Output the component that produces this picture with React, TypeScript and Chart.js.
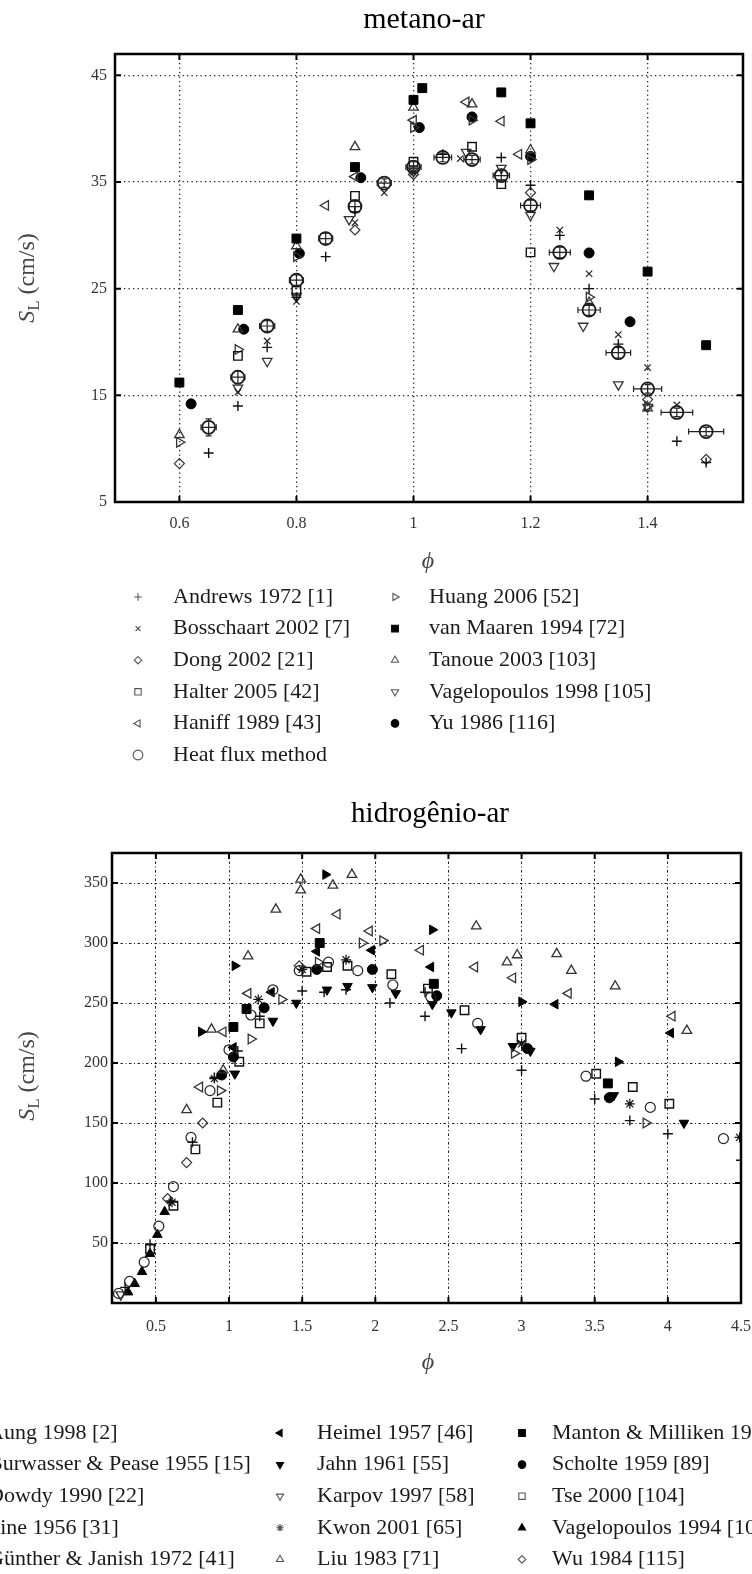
import React, { useEffect, useRef } from 'react';
import { Chart, registerables } from 'chart.js';
import { drawPoint } from 'chart.js/helpers';

Chart.register(...registerables);

const SERIF = "'Liberation Serif', 'DejaVu Serif', 'Times New Roman', serif";

// ================= metano-ar =================
const CH4_X_TICKS = [0.6, 0.8, 1, 1.2, 1.4];
const CH4_X_LABELS = ['0.6', '0.8', '1', '1.2', '1.4'];
const CH4_Y_TICKS = [5, 15, 25, 35, 45];
const CH4_Y_LABELS = ['5', '15', '25', '35', '45'];

const andrewsPhi = [0.65, 0.7, 0.75, 0.8, 0.85, 0.9, 1.05, 1.15, 1.2, 1.25, 1.3, 1.35, 1.45, 1.5];
const andrewsSL = [9.6, 14.0, 19.5, 24.2, 28.0, 32.2, 37.6, 37.3, 34.7, 30.0, 25.0, 19.8, 10.7, 8.7];
const bosschaartPhi = [0.7, 0.75, 0.8, 0.9, 0.95, 1.0, 1.08, 1.25, 1.3, 1.35, 1.4, 1.45];
const bosschaartSL = [15.3, 20.1, 23.8, 31.2, 34.0, 35.9, 37.2, 30.5, 26.4, 20.7, 17.6, 14.1];
const dongPhi = [0.6, 0.9, 1.0, 1.2, 1.4, 1.5];
const dongSL = [8.6, 30.5, 35.7, 34.0, 14.6, 9.0];
const halterPhi = [0.7, 0.8, 0.9, 1.0, 1.1, 1.15, 1.2];
const halterSL = [18.7, 24.8, 33.7, 36.9, 38.3, 34.8, 28.4];
const haniffPhi = [0.85, 0.9, 1.0, 1.09, 1.15, 1.18];
const haniffSL = [32.8, 35.5, 40.8, 42.5, 40.7, 37.6];
const heatFluxPhi = [0.65, 0.7, 0.75, 0.8, 0.85, 0.9, 0.95, 1.0, 1.05, 1.1, 1.15, 1.2, 1.25, 1.3, 1.35, 1.4, 1.45, 1.5];
const heatFluxSL = [12.0, 16.7, 21.5, 25.8, 29.7, 32.7, 34.9, 36.4, 37.3, 37.1, 35.6, 32.8, 28.4, 23.0, 19.0, 15.6, 13.4, 11.6];
const heatFluxPhiErr = [0.013, 0.012, 0.013, 0.012, 0.012, 0.01, 0.012, 0.013, 0.015, 0.014, 0.014, 0.017, 0.018, 0.019, 0.021, 0.024, 0.027, 0.03];
const heatFluxSLErr = [0.8, 0.6, 0.5, 0.5, 0.5, 0.5, 0.4, 0.5, 0.4, 0.4, 0.5, 0.5, 0.5, 0.5, 0.5, 0.4, 0.4, 0.4];
const huangPhi = [0.6, 0.7, 0.8, 1.0, 1.1, 1.2, 1.3, 1.4];
const huangSL = [10.6, 19.3, 28.0, 40.1, 40.8, 37.1, 24.2, 14.0];
const vanMaarenPhi = [0.6, 0.7, 0.8, 0.9, 1.0, 1.015, 1.15, 1.2, 1.3, 1.4, 1.5];
const vanMaarenSL = [16.2, 23.0, 29.7, 36.4, 42.7, 43.8, 43.4, 40.5, 33.75, 26.6, 19.7];
const tanouePhi = [0.6, 0.7, 0.8, 0.9, 1.0, 1.1, 1.2, 1.3, 1.4];
const tanoueSL = [11.3, 21.2, 29.0, 38.3, 42.0, 42.3, 38.0, 23.7, 13.8];
const vagelo98Phi = [0.7, 0.75, 0.8, 0.89, 1.0, 1.09, 1.15, 1.2, 1.24, 1.29, 1.35, 1.4];
const vagelo98SL = [15.7, 18.2, 24.3, 31.5, 36.0, 37.8, 36.3, 31.9, 27.1, 21.5, 16.0, 13.9];
const yuPhi = [0.62, 0.71, 0.805, 0.91, 1.01, 1.1, 1.2, 1.3, 1.37];
const yuSL = [14.2, 21.2, 28.3, 35.4, 40.1, 41.1, 37.4, 28.35, 21.9];

// ================= hidrogênio-ar =================
const H2_X_TICKS = [0.5, 1, 1.5, 2, 2.5, 3, 3.5, 4, 4.5];
const H2_X_LABELS = ['0.5', '1', '1.5', '2', '2.5', '3', '3.5', '4', '4.5'];
const H2_Y_TICKS = [50, 100, 150, 200, 250, 300, 350];
const H2_Y_LABELS = ['50', '100', '150', '200', '250', '300', '350'];

const aungPhi = [0.29, 0.46, 0.6, 0.75, 0.9, 1.06, 1.21, 1.5, 1.65, 1.8, 2.1, 2.34, 2.34, 2.59, 3.0, 3.5, 3.74, 4.0, 4.5];
const aungSL = [13, 49, 85, 134, 188, 210, 239, 260, 259, 261, 250, 259, 239, 212, 194, 170, 152, 141, 119];
const burwasserPhi = [0.245, 0.32, 0.42, 0.52, 0.62, 0.74, 0.87, 1.0, 1.15, 1.3, 1.48, 1.68, 1.88, 2.12, 2.38, 2.7, 3.44, 3.88, 4.38];
const burwasserSL = [8, 18, 34, 64, 97, 138, 177, 211, 240, 261, 277, 284, 277, 265, 255, 233, 189, 163, 137];
const dowdyPhi = [0.94, 1.15, 1.36, 1.61, 1.91, 2.05, 2.95, 3.85];
const dowdySL = [177, 220, 253, 284, 300, 302, 208, 150];
const finePhi = [0.81, 1.04, 1.66, 2.39, 3.0, 3.66];
const fineSL = [226, 281, 357, 311, 251, 201];
const guntherPhi = [0.8, 0.96, 1.13, 1.6, 1.74, 1.96, 2.31, 2.68, 2.94, 3.32, 4.03];
const guntherSL = [180, 226, 258, 312, 324, 310, 294, 280, 271, 258, 239];
const heimelPhi = [1.03, 1.29, 1.6, 1.975, 2.38, 3.23, 4.02];
const heimelSL = [213, 259, 293, 294, 280, 249, 225];
const jahnPhi = [1.04, 1.3, 1.46, 1.67, 1.81, 1.98, 2.14, 2.39, 2.52, 2.72, 2.94, 3.06, 3.63, 4.11];
const jahnSL = [191, 235, 250, 261, 264, 263, 258, 249, 242, 228, 214, 210, 173, 150];
const karpovPhi = [0.26];
const karpovSL = [7];
const kwonPhi = [0.61, 0.9, 1.2, 1.5, 1.8, 3.0, 3.74, 4.49];
const kwonSL = [84, 187, 253, 278, 286, 216, 166, 138];
const liuPhi = [0.71, 0.88, 0.96, 1.13, 1.32, 1.49, 1.49, 1.71, 1.84, 2.69, 2.9, 2.97, 3.24, 3.34, 3.64, 4.13];
const liuSL = [161, 228, 194, 289, 328, 353, 344, 348, 357, 314, 284, 290, 291, 277, 264, 227];
const mantonPhi = [1.03, 1.12, 1.62, 2.4, 3.59];
const mantonSL = [230, 245, 300, 266, 183];
const scholtePhi = [0.95, 1.03, 1.24, 1.6, 1.98, 2.42, 3.04, 3.6];
const scholteSL = [190, 205, 246, 278, 278, 256, 212, 171];
const tsePhi = [0.46, 0.62, 0.77, 0.92, 1.07, 1.21, 1.53, 1.67, 1.81, 2.11, 2.36, 2.61, 3.0, 3.51, 3.76, 4.01];
const tseSL = [45, 81, 128, 167, 201, 233, 276, 280, 281, 274, 262, 244, 221, 191, 180, 166];
const vagelo94Phi = [0.31, 0.355, 0.405, 0.46, 0.51, 0.56];
const vagelo94SL = [9, 16, 26, 41, 57, 76];
const wuPhi = [0.58, 0.71, 0.82, 1.48];
const wuSL = [87, 117, 150, 281];

// ================= marker styles =================
const MARKERS: any = {
  plus: { style: 'cross', rot: 0, r: 5, lw: 1.4, filled: false, color: '#111' },
  x: { style: 'crossRot', rot: 0, r: 4.5, lw: 1.2, filled: false, color: '#222' },
  diamond: { style: 'rectRot', rot: 0, r: 5, lw: 1.2, filled: false, color: '#333' },
  square: { style: 'rect', rot: 0, r: 6, lw: 1.4, filled: false, color: '#111' },
  triL: { style: 'triangle', rot: 270, r: 5.5, lw: 1.3, filled: false, color: '#333' },
  heat: { style: 'circle', rot: 0, r: 6.5, lw: 1.8, filled: false, color: '#1a1a1a' },
  circle: { style: 'circle', rot: 0, r: 5, lw: 1.2, filled: false, color: '#222' },
  triR: { style: 'triangle', rot: 90, r: 5.5, lw: 1.3, filled: false, color: '#333' },
  squareF: { style: 'rect', rot: 0, r: 6.3, lw: 1, filled: true, color: '#000' },
  triU: { style: 'triangle', rot: 0, r: 5.5, lw: 1.3, filled: false, color: '#333' },
  triD: { style: 'triangle', rot: 180, r: 5.5, lw: 1.3, filled: false, color: '#333' },
  dot: { style: 'circle', rot: 0, r: 5, lw: 1, filled: true, color: '#000' },
  triLF: { style: 'triangle', rot: 270, r: 5.5, lw: 1, filled: true, color: '#000' },
  triRF: { style: 'triangle', rot: 90, r: 5.5, lw: 1, filled: true, color: '#000' },
  triDF: { style: 'triangle', rot: 180, r: 5.5, lw: 1, filled: true, color: '#000' },
  triUF: { style: 'triangle', rot: 0, r: 5.5, lw: 1, filled: true, color: '#000' },
  star: { style: 'star', rot: 0, r: 5, lw: 1.2, filled: false, color: '#111' },
};

const CH4_SERIES = [
  { name: 'Andrews 1972 [1]', phi: andrewsPhi, sl: andrewsSL, marker: 'plus' },
  { name: 'Bosschaart 2002 [7]', phi: bosschaartPhi, sl: bosschaartSL, marker: 'x' },
  { name: 'Dong 2002 [21]', phi: dongPhi, sl: dongSL, marker: 'diamond' },
  { name: 'Halter 2005 [42]', phi: halterPhi, sl: halterSL, marker: 'square' },
  { name: 'Haniff 1989 [43]', phi: haniffPhi, sl: haniffSL, marker: 'triL' },
  { name: 'Heat flux method', phi: heatFluxPhi, sl: heatFluxSL, marker: 'heat', errX: heatFluxPhiErr, errY: heatFluxSLErr },
  { name: 'Huang 2006 [52]', phi: huangPhi, sl: huangSL, marker: 'triR' },
  { name: 'van Maaren 1994 [72]', phi: vanMaarenPhi, sl: vanMaarenSL, marker: 'squareF' },
  { name: 'Tanoue 2003 [103]', phi: tanouePhi, sl: tanoueSL, marker: 'triU' },
  { name: 'Vagelopoulos 1998 [105]', phi: vagelo98Phi, sl: vagelo98SL, marker: 'triD' },
  { name: 'Yu 1986 [116]', phi: yuPhi, sl: yuSL, marker: 'dot' },
];

const H2_SERIES = [
  { name: 'Aung 1998 [2]', phi: aungPhi, sl: aungSL, marker: 'plus' },
  { name: 'Burwasser & Pease 1955 [15]', phi: burwasserPhi, sl: burwasserSL, marker: 'circle' },
  { name: 'Dowdy 1990 [22]', phi: dowdyPhi, sl: dowdySL, marker: 'triR' },
  { name: 'Fine 1956 [31]', phi: finePhi, sl: fineSL, marker: 'triRF' },
  { name: 'Günther & Janish 1972 [41]', phi: guntherPhi, sl: guntherSL, marker: 'triL' },
  { name: 'Heimel 1957 [46]', phi: heimelPhi, sl: heimelSL, marker: 'triLF' },
  { name: 'Jahn 1961 [55]', phi: jahnPhi, sl: jahnSL, marker: 'triDF' },
  { name: 'Karpov 1997 [58]', phi: karpovPhi, sl: karpovSL, marker: 'triD' },
  { name: 'Kwon 2001 [65]', phi: kwonPhi, sl: kwonSL, marker: 'star' },
  { name: 'Liu 1983 [71]', phi: liuPhi, sl: liuSL, marker: 'triU' },
  { name: 'Manton & Milliken 1956 [73]', phi: mantonPhi, sl: mantonSL, marker: 'squareF' },
  { name: 'Scholte 1959 [89]', phi: scholtePhi, sl: scholteSL, marker: 'dot' },
  { name: 'Tse 2000 [104]', phi: tsePhi, sl: tseSL, marker: 'square' },
  { name: 'Vagelopoulos 1994 [106]', phi: vagelo94Phi, sl: vagelo94SL, marker: 'triUF' },
  { name: 'Wu 1984 [115]', phi: wuPhi, sl: wuSL, marker: 'diamond' },
];

function toDataset(s: any) {
  const m = MARKERS[s.marker];
  return {
    label: s.name,
    data: s.phi.map((x: number, i: number) => ({ x, y: s.sl[i] })),
    pointStyle: m.style,
    pointRotation: m.rot,
    pointRadius: m.r,
    pointHoverRadius: m.r,
    pointBorderColor: m.color,
    pointBackgroundColor: m.filled ? m.color : 'rgba(0,0,0,0)',
    pointBorderWidth: m.lw,
    showLine: false,
    errX: s.errX,
    errY: s.errY,
  };
}

const errorBarsPlugin = {
  id: 'errorBars',
  afterDatasetsDraw(chart: any) {
    const { ctx, scales } = chart;
    const xs = scales.x, ys = scales.y;
    chart.data.datasets.forEach((ds: any) => {
      if (!ds.errX) return;
      ctx.save();
      ctx.strokeStyle = '#222';
      ctx.lineWidth = 1.2;
      ds.data.forEach((p: any, i: number) => {
        const px = xs.getPixelForValue(p.x), py = ys.getPixelForValue(p.y);
        const x1 = xs.getPixelForValue(p.x - ds.errX[i]), x2 = xs.getPixelForValue(p.x + ds.errX[i]);
        const y1 = ys.getPixelForValue(p.y - ds.errY[i]), y2 = ys.getPixelForValue(p.y + ds.errY[i]);
        ctx.beginPath();
        ctx.moveTo(x1, py); ctx.lineTo(x2, py);
        ctx.moveTo(x1, py - 3); ctx.lineTo(x1, py + 3);
        ctx.moveTo(x2, py - 3); ctx.lineTo(x2, py + 3);
        ctx.moveTo(px, y1); ctx.lineTo(px, y2);
        ctx.moveTo(px - 3, y1); ctx.lineTo(px + 3, y1);
        ctx.moveTo(px - 3, y2); ctx.lineTo(px + 3, y2);
        ctx.stroke();
      });
      ctx.restore();
    });
  },
};

function framePlugin(xTicks: number[], yTicks: number[]) {
  return {
    id: 'frameTicks',
    afterDatasetsDraw(chart: any) {
      const { ctx, chartArea: a, scales } = chart;
      ctx.save();
      ctx.strokeStyle = '#000';
      ctx.lineWidth = 2;
      ctx.beginPath();
      xTicks.forEach((v) => {
        const p = scales.x.getPixelForValue(v);
        ctx.moveTo(p, a.bottom); ctx.lineTo(p, a.bottom - 6);
        ctx.moveTo(p, a.top); ctx.lineTo(p, a.top + 6);
      });
      yTicks.forEach((v) => {
        const p = scales.y.getPixelForValue(v);
        ctx.moveTo(a.left, p); ctx.lineTo(a.left + 6, p);
        ctx.moveTo(a.right, p); ctx.lineTo(a.right - 6, p);
      });
      ctx.stroke();
      ctx.lineWidth = 2.5;
      ctx.strokeRect(a.left, a.top, a.right - a.left, a.bottom - a.top);
      ctx.restore();
    },
  };
}

function decorPlugin(cfg: any) {
  return {
    id: 'decor',
    afterDraw(chart: any) {
      const ctx = chart.ctx;
      ctx.save();
      // title
      ctx.fillStyle = '#000';
      ctx.font = `${cfg.titleSize}px ${SERIF}`;
      ctx.textAlign = 'center';
      ctx.textBaseline = 'alphabetic';
      ctx.fillText(cfg.title, cfg.titleX, cfg.titleY);
      // x label
      ctx.fillStyle = '#444';
      ctx.font = `italic 24px ${SERIF}`;
      ctx.textBaseline = 'middle';
      ctx.fillText('\u03d5', cfg.phiX, cfg.phiY);
      // y label with subscript
      ctx.save();
      ctx.translate(cfg.ylX, cfg.ylY);
      ctx.rotate(-Math.PI / 2);
      const size = 24;
      const fS = `italic ${size}px ${SERIF}`;
      const fL = `${Math.round(size * 0.72)}px ${SERIF}`;
      const fR = `${size}px ${SERIF}`;
      ctx.font = fS; const wS = ctx.measureText('S').width;
      ctx.font = fL; const wL = ctx.measureText('L').width;
      ctx.font = fR; const wR = ctx.measureText(' (cm/s)').width;
      const total = wS + wL + wR;
      let xx = -total / 2;
      const base = size * 0.3;
      ctx.textAlign = 'left';
      ctx.textBaseline = 'alphabetic';
      ctx.fillStyle = '#444';
      ctx.font = fS; ctx.fillText('S', xx, base); xx += wS;
      ctx.font = fL; ctx.fillText('L', xx, base + size * 0.2); xx += wL;
      ctx.font = fR; ctx.fillText(' (cm/s)', xx, base);
      ctx.restore();
      // legend
      const rows = cfg.legendRows;
      cfg.series.forEach((s: any, i: number) => {
        const col = Math.floor(i / rows);
        const row = i % rows;
        const y = cfg.legendY + row * cfg.legendDy;
        const m = MARKERS[s.marker];
        ctx.save();
        ctx.strokeStyle = m.filled ? '#000' : '#555';
        ctx.fillStyle = m.filled ? '#000' : 'rgba(0,0,0,0)';
        ctx.lineWidth = 1.1;
        drawPoint(ctx, { pointStyle: m.style, rotation: m.rot, radius: m.r * 0.75, borderWidth: 1.1 } as any, cfg.markerX[col], y);
        ctx.restore();
        ctx.fillStyle = '#1a1a1a';
        ctx.font = `${cfg.legendSize}px ${SERIF}`;
        ctx.textAlign = 'left';
        ctx.textBaseline = 'middle';
        ctx.fillText(s.name, cfg.textX[col], y);
      });
      ctx.restore();
    },
  };
}

function buildConfig(o: any) {
  return {
    type: 'scatter',
    data: { datasets: o.series.map(toDataset) },
    options: {
      responsive: false,
      animation: false,
      events: [],
      layout: { padding: o.padding },
      plugins: { legend: { display: false }, tooltip: { enabled: false }, title: { display: false } },
      scales: {
        x: {
          type: 'linear',
          min: o.xMin,
          max: o.xMax,
          afterBuildTicks: (s: any) => { s.ticks = o.xTicks.map((v: number) => ({ value: v })); },
          afterFit: (s: any) => { s.height = 40; s.paddingLeft = 0; s.paddingRight = 0; },
          grid: { color: '#222', lineWidth: o.gridWidth, drawTicks: false },
          border: { display: false, dash: o.gridDash },
          ticks: {
            padding: o.xPad,
            autoSkip: false,
            maxRotation: 0,
            color: '#333',
            font: { family: SERIF, size: 16 },
            callback: (_v: any, i: number) => o.xLabels[i],
          },
        },
        y: {
          type: 'linear',
          min: o.yMin,
          max: o.yMax,
          afterBuildTicks: (s: any) => { s.ticks = o.yTicks.map((v: number) => ({ value: v })); },
          afterFit: (s: any) => { s.width = o.yWidth; s.paddingTop = 0; s.paddingBottom = 0; },
          grid: { color: '#222', lineWidth: o.gridWidth, drawTicks: false },
          border: { display: false, dash: o.gridDash },
          ticks: {
            padding: o.yPad,
            autoSkip: false,
            color: '#333',
            font: { family: SERIF, size: 16 },
            callback: (_v: any, i: number) => o.yLabels[i],
          },
        },
      },
    },
    plugins: [errorBarsPlugin, framePlugin(o.xTicks, o.yTicks), decorPlugin(o.decor)],
  };
}

function ChartBox({ top, height, config }: any) {
  const ref = useRef<HTMLCanvasElement>(null);
  useEffect(() => {
    const chart = new Chart(ref.current as HTMLCanvasElement, config() as any);
    return () => chart.destroy();
  }, []);
  return (
    <div style={{ position: 'absolute', left: 0, top, width: 752, height }}>
      <canvas ref={ref} width={752} height={height} style={{ display: 'block', width: 752, height }} />
    </div>
  );
}

const ch4Config = () =>
  buildConfig({
    series: CH4_SERIES,
    xMin: 0.49, xMax: 1.563, yMin: 5, yMax: 47,
    xTicks: CH4_X_TICKS, xLabels: CH4_X_LABELS, yTicks: CH4_Y_TICKS, yLabels: CH4_Y_LABELS,
    padding: { left: 0, right: 9, top: 54, bottom: 238 },
    yWidth: 115, yPad: 8, xPad: 12,
    gridDash: [1.3, 3.2], gridWidth: 1.3,
    decor: {
      title: 'metano-ar', titleX: 424, titleY: 28, titleSize: 30,
      phiX: 428, phiY: 562,
      ylX: 27, ylY: 278,
      series: CH4_SERIES, legendRows: 6, legendY: 597, legendDy: 31.6, legendSize: 22,
      markerX: [138, 395], textX: [173, 429],
    },
  });

const h2Config = () =>
  buildConfig({
    series: H2_SERIES,
    xMin: 0.2, xMax: 4.5, yMin: 0, yMax: 375,
    xTicks: H2_X_TICKS, xLabels: H2_X_LABELS, yTicks: H2_Y_TICKS, yLabels: H2_Y_LABELS,
    padding: { left: 0, right: 11, top: 73, bottom: 231 },
    yWidth: 112, yPad: 4, xPad: 14,
    gridDash: [2.5, 2.5, 1, 2.5], gridWidth: 1,
    decor: {
      title: 'hidrogênio-ar', titleX: 430, titleY: 42, titleSize: 29,
      phiX: 428, phiY: 583,
      ylX: 27, ylY: 296,
      series: H2_SERIES, legendRows: 5, legendY: 653, legendDy: 31.6, legendSize: 22,
      markerX: [-40, 280, 522], textX: [-12, 317, 552],
    },
  });

export default function App() {
  return (
    <div style={{ position: 'absolute', left: 0, top: 0, width: 752, height: 1574, overflow: 'hidden', background: '#fff' }}>
      <ChartBox top={0} height={780} config={ch4Config} />
      <ChartBox top={780} height={794} config={h2Config} />
    </div>
  );
}
